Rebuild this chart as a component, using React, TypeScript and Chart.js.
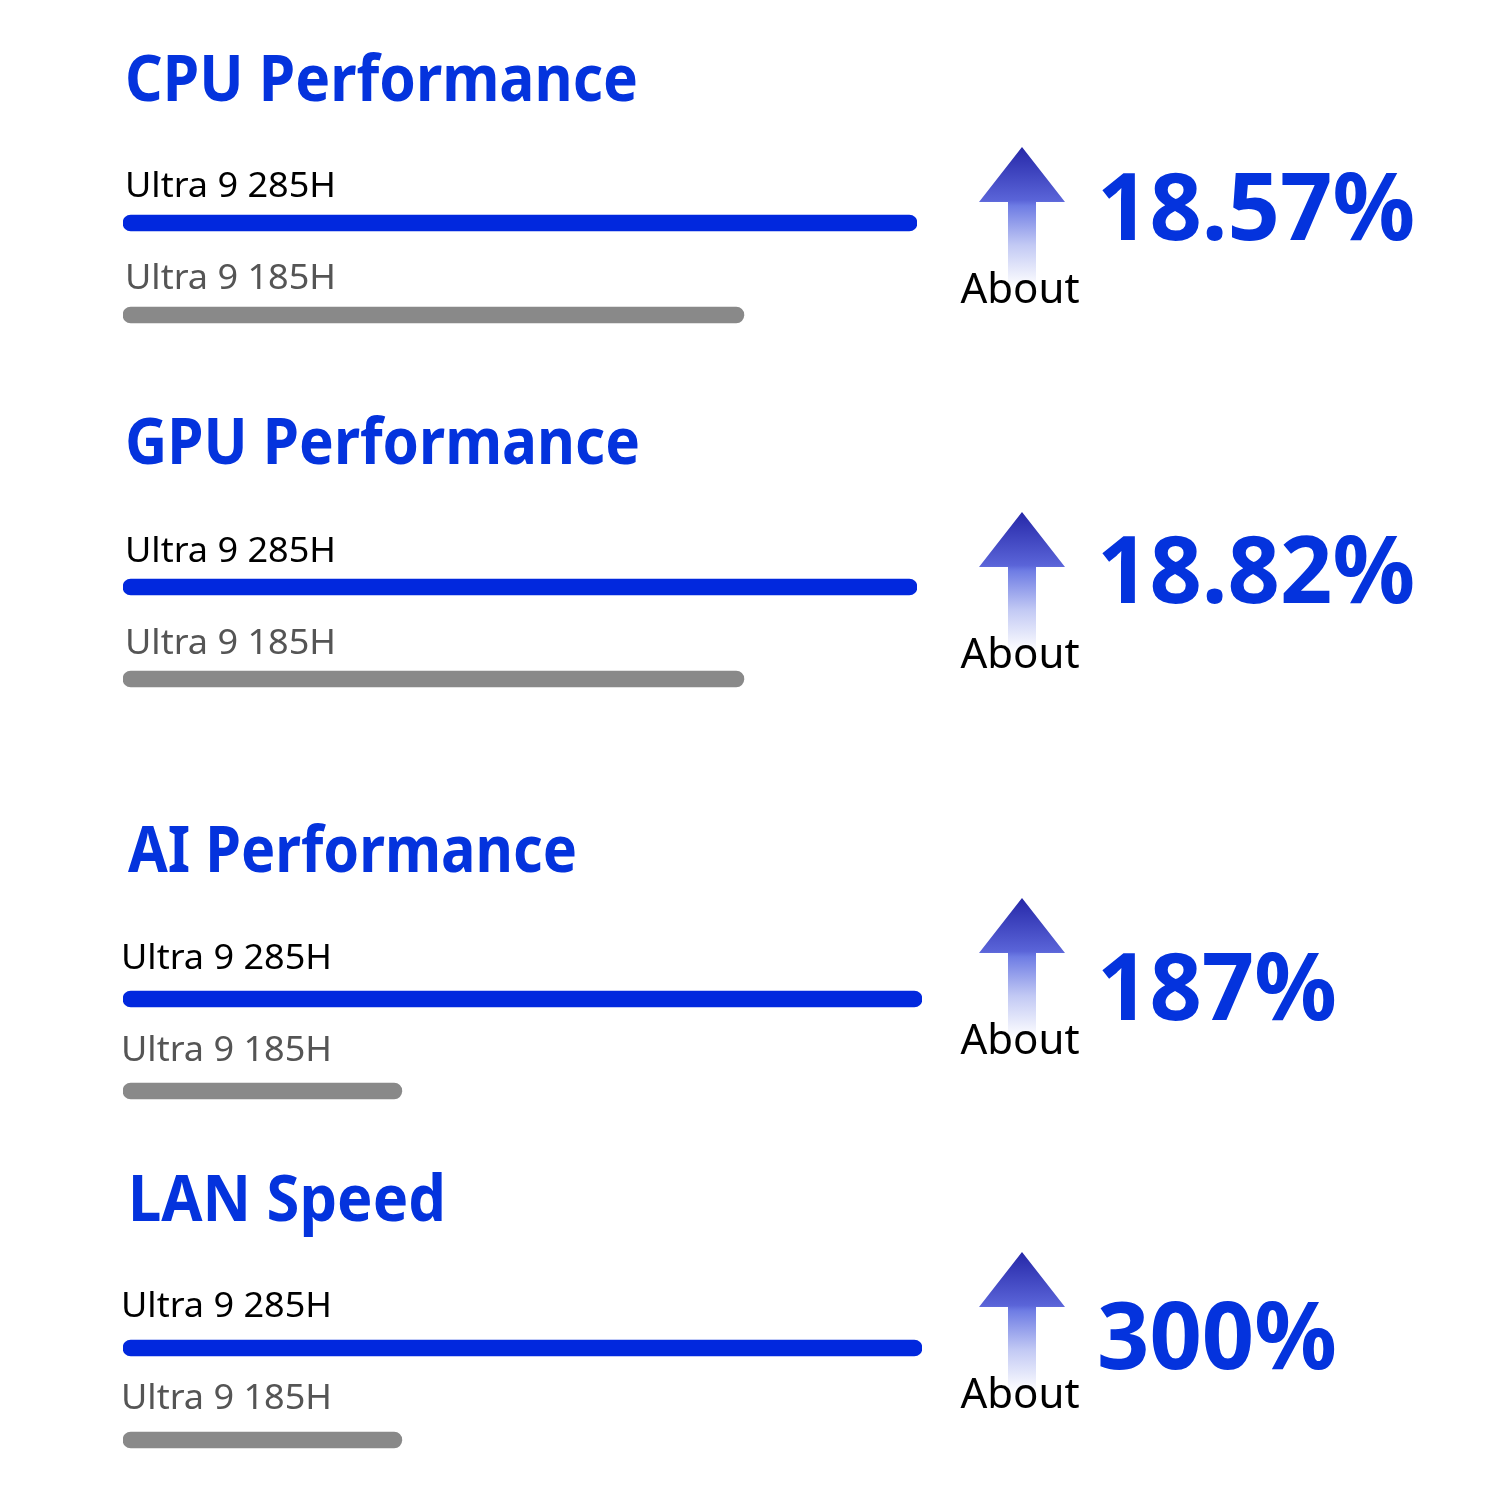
import React, { useEffect, useRef } from "react";
import { Chart, registerables } from "chart.js";

Chart.register(...registerables);

// ---- data ----
const sectionTitles = ["CPU Performance", "GPU Performance", "AI Performance", "LAN Speed"];
const processors = ["Ultra 9 285H", "Ultra 9 185H"];
const newScores = [100, 100, 100, 100]; // Ultra 9 285H (relative bar length)
const oldScores = [78.2, 78.2, 34.9, 34.9]; // Ultra 9 185H (relative bar length)
const gains = ["18.57%", "18.82%", "187%", "300%"];
const gainPrefix = "About";

// ---- layout (page pixels) ----
const layout = [
  { barCenter: 223, left: 123, right: 917, labelX: 125, titleX: 125, titleW: 513, titleGap: 122, labelGap: 26, tipGap: 76, gainGap: 17 },
  { barCenter: 587, left: 123, right: 917, labelX: 125, titleX: 125, titleW: 515, titleGap: 123, labelGap: 25, tipGap: 75, gainGap: 16 },
  { barCenter: 999, left: 123, right: 922, labelX: 121, titleX: 128, titleW: 449, titleGap: 127, labelGap: 30, tipGap: 101, gainGap: 21 },
  { barCenter: 1348, left: 123, right: 922, labelX: 121, titleX: 128, titleW: 318, titleGap: 127, labelGap: 31, tipGap: 96, gainGap: 21 },
];

const W = 1500;
const H = 1500;
const BLUE = "#0433dd";
const BAR_BLUE = "#0128de";
const BAR_GRAY = "#898989";
const FONT = "'Noto Sans', 'DejaVu Sans', sans-serif";

function drawCondensed(ctx: CanvasRenderingContext2D, text: string, x: number, y: number, sx: number) {
  ctx.save();
  ctx.translate(x, y);
  ctx.scale(sx, 1);
  ctx.fillText(text, 0, 0);
  ctx.restore();
}

function Section({ index }: { index: number }) {
  const ref = useRef<HTMLCanvasElement | null>(null);

  useEffect(() => {
    const L = layout[index];
    const overlay = {
      id: "overlay" + index,
      afterDatasetsDraw(chart: any) {
        const ctx = chart.ctx as CanvasRenderingContext2D;
        const meta = chart.getDatasetMeta(0);
        const first = meta.data[0];
        ctx.save();
        // title
        ctx.textAlign = "left";
        ctx.textBaseline = "alphabetic";
        ctx.fillStyle = BLUE;
        ctx.font = `bold 64px ${FONT}`;
        const tw = ctx.measureText(sectionTitles[index]).width;
        drawCondensed(ctx, sectionTitles[index], L.titleX, first.y - L.titleGap, L.titleW / tw);
        // bar labels
        ctx.font = `35px ${FONT}`;
        meta.data.forEach((bar: any, i: number) => {
          ctx.fillStyle = i === 0 ? "#000000" : "#555555";
          drawCondensed(ctx, chart.data.labels[i], L.labelX, bar.y - L.labelGap, 1.03);
        });
        // arrow
        const tipX = 1022;
        const tipY = first.y - L.tipGap;
        const headH = 55;
        const headHalf = 43;
        const shaftHalf = 14;
        const shaftBottom = tipY + 140;
        const g = ctx.createLinearGradient(0, tipY, 0, shaftBottom);
        g.addColorStop(0, "#2628a8");
        g.addColorStop(0.38, "#5a64d8");
        g.addColorStop(0.42, "#6e7ce4");
        g.addColorStop(0.7, "#c2c9f4");
        g.addColorStop(1, "rgba(255,255,255,1)");
        ctx.fillStyle = g;
        ctx.beginPath();
        ctx.moveTo(tipX, tipY);
        ctx.lineTo(tipX + headHalf, tipY + headH);
        ctx.lineTo(tipX + shaftHalf, tipY + headH);
        ctx.lineTo(tipX + shaftHalf, shaftBottom);
        ctx.lineTo(tipX - shaftHalf, shaftBottom);
        ctx.lineTo(tipX - shaftHalf, tipY + headH);
        ctx.lineTo(tipX - headHalf, tipY + headH);
        ctx.closePath();
        ctx.fill();
        // "About"
        ctx.fillStyle = "#000000";
        ctx.font = `42px ${FONT}`;
        ctx.textAlign = "center";
        ctx.fillText(gainPrefix, 1020, tipY + 156);
        // gain value
        ctx.fillStyle = BLUE;
        ctx.font = `bold 94px ${FONT}`;
        ctx.textAlign = "left";
        drawCondensed(ctx, gains[index], 1097, first.y + L.gainGap, 0.975);
        ctx.restore();
      },
    };

    const chart = new Chart(ref.current as HTMLCanvasElement, {
      type: "bar",
      data: {
        labels: processors,
        datasets: [
          {
            data: [newScores[index], oldScores[index]],
            backgroundColor: [BAR_BLUE, BAR_GRAY],
            barThickness: 16,
            borderRadius: 8,
            borderSkipped: false,
          },
        ],
      },
      options: {
        indexAxis: "y",
        responsive: false,
        animation: false,
        events: [],
        layout: {
          padding: {
            left: L.left,
            right: W - L.right,
            top: L.barCenter - 46,
            bottom: H - (L.barCenter + 138),
          },
        },
        scales: {
          x: { display: false, min: 0, max: 100 },
          y: { display: false },
        },
        plugins: {
          legend: { display: false },
          tooltip: { enabled: false },
          title: { display: false },
        },
      } as any,
      plugins: [overlay],
    });
    return () => chart.destroy();
  }, [index]);

  return (
    <canvas
      ref={ref}
      width={W}
      height={H}
      style={{ position: "absolute", left: 0, top: 0, width: W, height: H }}
    />
  );
}

export default function App() {
  return (
    <div style={{ position: "absolute", left: 0, top: 0, width: W, height: H, background: "#ffffff", overflow: "hidden" }}>
      {sectionTitles.map((_, i) => (
        <Section key={i} index={i} />
      ))}
    </div>
  );
}
